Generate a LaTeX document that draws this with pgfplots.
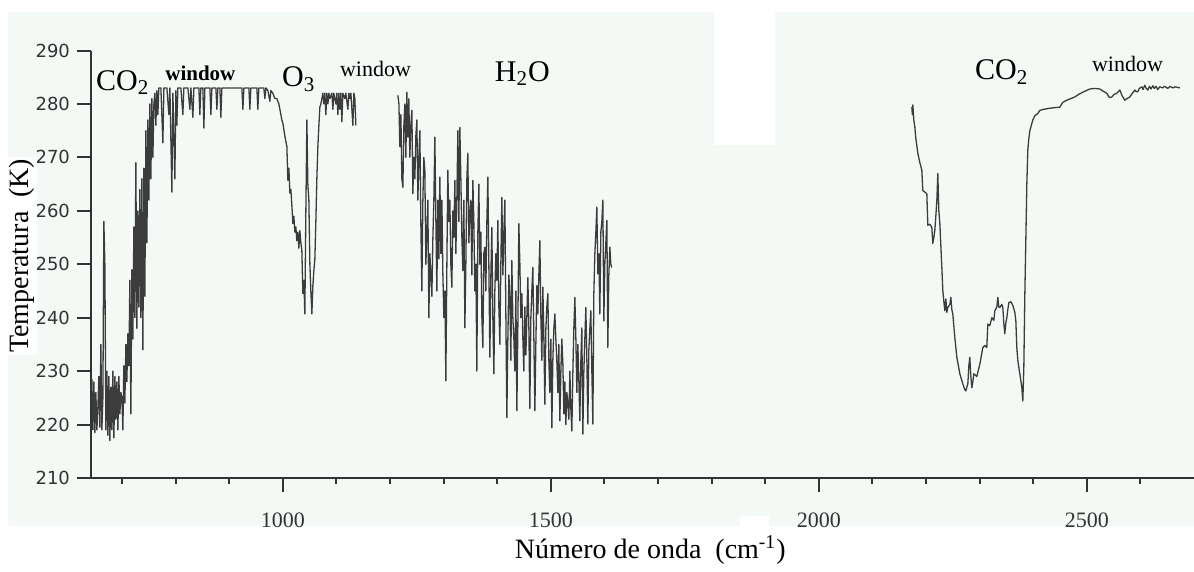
\documentclass[border=0pt]{standalone}
\usepackage{pgfplots}
\pgfplotsset{compat=1.18}
\usepackage{fontspec}
\setmainfont{Liberation Serif}
\newfontfamily\tickfont{DejaVu Sans}

\definecolor{panel}{HTML}{F4F9F5}
\definecolor{axiscol}{HTML}{333333}
\definecolor{curve}{HTML}{3C3C3C}

% brightness temperature spectrum, three measured bands
\pgfplotstableread{
x y
643.6 228.5
645.5 219
647.4 228
649.2 218.5
651.1 226
653.0 219
654.8 223
656.7 229
658.6 219.5
660.4 235
662.3 219
664.2 225
666.0 258
667.9 250
669.8 219
671.6 230
673.5 218
675.4 229
677.2 217
679.1 227
681.0 219
682.8 230
684.7 217.5
686.6 229
688.4 221
690.3 228
692.2 219
694.0 229
695.9 222
697.7 226
699.6 225
701.5 219
703.3 231
705.2 224
707.1 235
708.9 228
710.8 237
712.7 231
714.5 247
716.4 222
718.3 249
720.1 236
722.0 257
723.9 240
725.7 269
727.6 238
729.5 260
731.3 242
733.2 264
735.1 240
736.9 266
738.8 234
740.7 268
742.5 244
744.4 275
746.3 254
748.1 277
750.0 262
751.9 280
753.7 266
755.6 281
757.5 270
759.3 280
761.2 282
763.0 276
764.9 282.5
766.8 278
768.6 283
772.4 283
776.1 272.7
778.0 283
783.6 283
787.3 278
789.2 283
792.9 263.5
794.8 282
798.5 266
800.4 282.5
802.2 276
804.1 283
809.7 283
813.4 278
815.3 283
822.8 283
826.5 279
828.4 283
832.1 277.5
834.0 283
843.3 283
845.1 278
846.9 283
850.7 283
852.6 275.5
854.5 283
863.8 283
865.7 278
867.6 283
875.0 283
876.9 279
878.7 283
882.5 283
884.3 277.5
886.2 283
899.2 283
912.3 283
923.5 283
925.4 279
927.3 283
936.6 283
938.4 279
940.3 283
951.5 283
953.3 279
955.2 283
964.5 283
966.4 281
968.3 283
972.0 282.5
975.7 280.5
977.6 282.5
981.3 282
985.1 281
988.8 281
992.5 280
994.4 279
998.1 277
1000.0 276.4
1003.7 274
1007.5 272
1009.3 265.7
1011.2 268
1013.1 263.3
1014.9 264
1016.8 261
1018.7 257.6
1020.5 259
1022.4 256
1024.2 257
1026.1 254.4
1028.0 256
1029.8 253
1031.7 256.3
1033.6 254
1035.4 252.6
1037.3 244.5
1039.2 247
1041.0 240.7
1042.9 260
1044.8 277
1046.6 265
1048.5 262
1050.4 250
1052.2 245
1054.1 240.7
1056.0 246
1057.8 248.8
1059.7 251
1061.6 258.2
1063.4 266
1065.3 272
1067.2 276
1069.0 279.4
1070.9 280
1072.8 281
1074.6 282
1076.5 280
1078.4 282
1080.2 278
1082.1 282
1084.0 280
1085.8 282
1087.7 281
1091.4 282
1093.3 279
1095.1 282
1098.9 280
1100.7 282
1102.6 278
1104.5 282
1106.3 279
1108.2 282
1110.1 276.7
1111.9 282
1115.7 281
1117.5 282
1121.3 279
1123.1 282
1125.0 281
1126.9 282
1130.6 276
1132.5 282
1134.3 281
1136.2 276
}\bandA

\pgfplotstableread{
x y
1214.6 281.6
1216.5 280
1218.3 272
1220.2 278
1222.0 266
1223.9 264.4
1225.8 276
1227.6 280
1229.5 270
1231.3 282.2
1233.2 273.8
1235.0 281
1236.9 270
1238.8 276
1240.7 278.8
1242.5 263.2
1244.4 270
1246.3 266
1248.1 274
1250.0 277
1251.9 262
1253.7 270
1255.6 275
1257.4 258
1259.3 245
1261.2 262
1263.0 270
1264.9 267.6
1266.8 250
1268.7 255.7
1270.5 262
1272.4 240
1274.3 252
1276.1 248
1278.0 244
1279.9 255
1281.7 262
1283.6 273.8
1285.5 258
1287.3 245
1289.2 262
1291.1 251
1292.9 266.3
1294.8 252
1296.7 262
1298.5 248.2
1300.4 240
1302.3 245
1304.1 228.2
1306.0 250
1307.8 267.6
1309.7 258
1311.6 262
1313.4 250
1315.3 245.7
1317.2 260
1319.0 255
1320.9 265.7
1322.8 252
1324.6 262
1326.5 275
1328.4 258
1330.2 275.6
1332.1 266
1334.0 255
1335.8 248.8
1337.7 262
1339.6 238.1
1341.4 250
1343.3 266
1345.1 270.8
1347.0 254
1348.9 259.5
1350.7 262
1352.6 248
1354.5 265.7
1356.3 258
1358.2 245
1360.1 250
1361.9 230
1363.8 256
1365.7 265
1367.5 250
1369.4 256
1371.3 240
1373.1 234.4
1375.0 252
1376.9 253.2
1378.7 245
1380.6 258
1382.5 266.3
1384.3 250
1386.2 232.6
1388.1 248
1389.9 256.9
1391.8 240
1393.7 229.5
1395.5 245
1397.4 252
1399.3 247
1401.1 258.2
1403.0 242
1404.9 235
1406.7 250
1408.6 262.5
1410.5 248
1412.3 256
1414.2 262
1416.1 240
1417.9 221.3
1419.8 236
1421.7 248
1423.5 244
1425.4 232
1427.2 250.7
1429.1 240
1431.0 236
1432.8 230
1434.7 245
1436.6 222.6
1438.4 238
1440.3 257.6
1442.2 250
1444.0 240
1445.9 244.5
1447.8 236
1449.6 230
1451.5 242
1453.4 233
1455.2 240
1457.1 247.5
1459.0 238
1460.8 223
1462.7 240
1464.5 245
1466.4 249.4
1468.3 236
1470.2 222.6
1472.0 235
1473.9 246
1475.7 240.7
1477.6 248
1479.5 254.4
1481.4 240
1483.2 232
1485.1 245.7
1487.0 236
1488.8 223.8
1490.7 238
1492.5 242
1494.4 244.5
1496.3 232
1498.1 226
1500.0 236
1501.9 219.4
1503.7 232
1505.6 238
1507.5 240.7
1509.3 236
1511.2 231.9
1513.1 226
1514.9 235
1516.8 220.7
1518.7 230
1520.5 236
1522.4 231.4
1524.3 222
1526.1 228
1528.0 220
1529.9 226
1531.7 224
1533.6 221
1535.5 230
1537.3 223
1539.2 218.8
1541.1 230
1542.9 238
1544.8 243.8
1546.7 236
1548.5 226
1550.4 235
1552.3 228
1554.1 220.7
1556.0 232
1557.8 238.1
1559.7 218.2
1561.6 230
1563.4 236
1565.3 241.9
1567.2 232
1569.0 220.1
1570.9 234
1572.8 238
1574.6 241.3
1576.5 230
1578.4 220.1
1580.2 244.5
1582.1 252
1584.0 256
1585.8 260.7
1587.7 248.2
1589.6 252
1591.4 240.7
1593.3 256
1595.2 258
1597.0 262
1598.9 239.4
1600.7 250
1602.6 254
1604.5 258.2
1606.3 234.4
1608.2 248
1610.1 253.2
1611.9 250
1613.8 249.4
}\bandB

\pgfplotstableread{
x y
2173.5 279.4
2174.5 278
2175.4 279.8
2177.2 277
2179.1 275.7
2181.0 273.5
2184.7 270.8
2188.5 269
2192.2 267.6
2194.0 263.8
2197.8 263.5
2201.5 263.2
2203.4 257.3
2207.1 257.5
2210.8 256.9
2212.7 253.9
2214.6 255
2216.4 256.3
2218.3 259
2220.2 261.9
2222.0 267
2223.9 260
2225.8 257.6
2229.5 249.4
2231.4 245
2233.3 243
2235.1 241.3
2237.0 243.5
2238.8 241
2240.7 241.9
2244.5 242.5
2246.3 243.8
2248.2 241.5
2250.0 240.7
2253.7 236.3
2257.5 232.6
2263.1 229.5
2268.7 227.6
2272.4 226.5
2274.3 226.3
2276.1 227
2278.0 227.6
2279.9 231
2281.7 232.6
2283.6 229
2285.5 226.9
2287.3 228
2289.2 229.5
2294.8 229
2300.4 231.3
2306.0 234.4
2309.7 234.8
2313.4 234.4
2315.3 238.8
2319.0 238.5
2322.8 240
2326.5 239.5
2328.4 241.3
2332.1 242
2334.0 243.8
2335.8 242
2337.7 241.9
2341.4 242.5
2343.3 241.9
2345.1 239
2347.0 237
2348.9 239
2350.8 240
2352.6 241.5
2354.5 242.8
2358.2 243
2362.0 242.3
2365.7 241
2367.6 239.4
2369.4 234.4
2371.3 232
2375.0 229.5
2378.7 227
2380.6 224.4
2382.5 230.7
2384.3 244
2386.2 254.4
2388.1 265
2389.9 271.3
2391.8 273.5
2393.7 275
2399.3 277
2403.0 277.8
2408.6 278.2
2412.3 278.8
2420.0 279
2431.0 279.2
2440.0 279.3
2449.6 279.4
2455.2 280.3
2465.0 280.8
2477.6 281.3
2485.0 281.8
2492.5 282.2
2505.6 282.8
2515.0 282.9
2524.3 282.8
2530.0 282.4
2537.3 282
2542.0 281.2
2546.7 281.3
2551.0 281.8
2556.0 282
2561.6 282.6
2566.0 281.5
2570.9 280.7
2575.0 281
2580.2 281.3
2585.0 282
2589.6 282.6
2592.0 282.3
2595.2 282.3
2598.0 282.9
2602.6 283.2
2605.0 282.7
2608.2 283.5
2611.0 282.9
2613.8 282.6
2617.0 283.3
2620.0 282.8
2623.1 283.4
2626.0 282.9
2629.0 283.3
2632.5 282.7
2636.0 283.2
2641.8 283
2645.0 283.3
2651.2 282.9
2655.0 283.3
2660.5 283
2665.0 283.2
2673.5 283
}\bandC

\begin{document}
\begin{tikzpicture}
\useasboundingbox (-45.5pt,-47pt) rectangle (551.5pt,239pt);
% tinted panel with its two blank patches
\fill[panel] (-41.5pt,-24pt) rectangle (551.5pt,233pt);
\fill[white] (311.5pt,166.5pt) rectangle (342pt,233.5pt);
\fill[white] (324.5pt,-24.5pt) rectangle (339pt,-19pt);
\begin{axis}[
  scale only axis,
  width=551.5pt, height=213.75pt,
  xmin=642, xmax=2700, ymin=210, ymax=290,
  axis x line=bottom, axis y line=left,
  axis line style={-, draw=axiscol, line width=1pt},
  xtick={1000,1500,2000,2500},
  minor xtick={700,800,...,2600},
  ytick={210,220,...,290},
  tick align=outside,
  major tick length=7pt, minor tick length=3pt,
  every tick/.style={draw=axiscol, line width=1pt},
  /pgf/number format/assume math mode=true,
  /pgf/number format/set thousands separator={},
  xticklabel style={font=\fontsize{11}{13}\selectfont, text=axiscol, yshift=-7pt},
  yticklabel style={font=\tickfont\fontsize{9}{11}\selectfont, text=axiscol},
  xlabel={Número de onda\ \ (cm\textsuperscript{-1})},
  ylabel={Temperatura\ \ (K)},
  every axis x label/.style={at={(axis description cs:0.507,0)}, anchor=center, yshift=-36pt, font=\fontsize{14}{16}\selectfont},
  every axis y label/.style={at={(axis description cs:-0.0626,0.52)}, anchor=center, rotate=90, fill=white, inner sep=1pt, font=\fontsize{14}{16}\selectfont},
  clip=false,
]
\addplot[curve, line width=0.65pt, line join=round] table[x=x,y=y] {\bandA};
\addplot[curve, line width=0.65pt, line join=round] table[x=x,y=y] {\bandB};
\addplot[curve, line width=0.65pt, line join=round] table[x=x,y=y] {\bandC};

\node[anchor=base west, inner sep=0pt, font=\fontsize{15}{18}\selectfont] at (axis cs:651,282.6) {CO\textsubscript{2}};
\node[anchor=base west, inner sep=0pt, font=\bfseries\fontsize{10.5}{12}\selectfont] at (axis cs:780,284.3) {window};
\node[anchor=base west, inner sep=0pt, font=\fontsize{15}{18}\selectfont] at (axis cs:998,283.2) {O\textsubscript{3}};
\node[anchor=base west, inner sep=0pt, font=\fontsize{11}{13}\selectfont] at (axis cs:1106,285.1) {window};
\node[anchor=base west, inner sep=0pt, font=\fontsize{15}{18}\selectfont] at (axis cs:1395,284.2) {H\textsubscript{2}O};
\node[anchor=base west, inner sep=0pt, font=\fontsize{15}{18}\selectfont] at (axis cs:2291,284.5) {CO\textsubscript{2}};
\node[anchor=base west, inner sep=0pt, font=\fontsize{11}{13}\selectfont] at (axis cs:2509,286.0) {window};
\end{axis}
\end{tikzpicture}
\end{document}
